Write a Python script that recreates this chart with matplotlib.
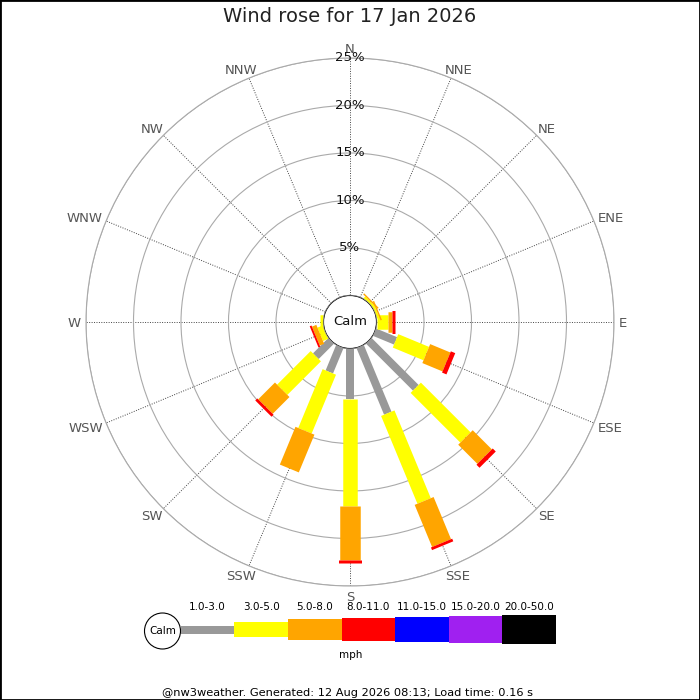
import numpy as np
import matplotlib
matplotlib.use("Agg")
import matplotlib.pyplot as plt
from matplotlib.patches import Circle, Rectangle

# Wind rose data: percent of time per direction and speed band
directions = ["N", "NNE", "NE", "ENE", "E", "ESE", "SE", "SSE",
              "S", "SSW", "SW", "WSW", "W", "WNW", "NW", "NNW"]
speed_bins = ["1.0-3.0", "3.0-5.0", "5.0-8.0", "8.0-11.0",
              "11.0-15.0", "15.0-20.0", "20.0-50.0"]
speed_unit = "mph"

pct_1_3 = [0, 0, 0, 0, 0, 2.4, 7.0, 7.6, 5.3, 2.9, 2.3, 0, 0, 0, 0, 0]
pct_3_5 = [0, 0, 0.25, 0.25, 1.25, 3.5, 7.4, 10.0, 11.3, 6.7, 5.0, 0.6, 0.35, 0, 0, 0]
pct_5_8 = [0, 0, 0.15, 0.15, 0.4, 2.3, 2.85, 4.8, 5.7, 4.3, 2.5, 0.5, 0, 0, 0, 0]
pct_8_11 = [0, 0, 0, 0, 0.3, 0.5, 0.45, 0.3, 0.3, 0, 0.3, 0.2, 0, 0, 0, 0]
pct_11_15 = [0] * 16
pct_15_20 = [0] * 16
pct_20_50 = [0] * 16

ring_ticks = [5, 10, 15, 20, 25]
title = "Wind rose for 17 Jan 2026"
footer = "@nw3weather. Generated: 12 Aug 2026 08:13; Load time: 0.16 s"

bin_colors = ["#999999", "#ffff00", "#ffa500", "#ff0000", "#0000ff", "#a020f0", "#000000"]
bin_widths_px = [8, 14.5, 20.5, 23, 25, 27, 29]

series = [pct_1_3, pct_3_5, pct_5_8, pct_8_11, pct_11_15, pct_15_20, pct_20_50]

dpi = 100
px = 72.0 / dpi   # points per pixel

fig = plt.figure(figsize=(7, 7), dpi=dpi)
fig.patch.set_facecolor("white")

# polar axes: centre (350, 322) px, outer ring radius 264 px
ax = fig.add_axes([86 / 700, 114 / 700, 528 / 700, 528 / 700], projection="polar")
ax.set_theta_zero_location("N")
ax.set_theta_direction(-1)
ax.set_ylim(0, 25)
ax.set_rorigin(-2.79)

theta = np.deg2rad(np.arange(16) * 22.5)
ax.set_xticks(theta)
ax.set_xticklabels([])
ax.set_yticks(ring_ticks)
ax.set_yticklabels([])
ax.xaxis.grid(True, color="#444444", linestyle=(0, (1, 1.5)), linewidth=0.7)
ax.yaxis.grid(True, color="#aaaaaa", linestyle="-", linewidth=0.8)
ax.spines["polar"].set_color("#aaaaaa")
ax.spines["polar"].set_linewidth(0.8)
for name in ("inner", "start", "end"):
    if name in ax.spines:
        ax.spines[name].set_visible(False)

# stacked bars as thick radial lines
base = np.zeros(16)
for vals, col, w in zip(series, bin_colors, bin_widths_px):
    vals = np.array(vals, dtype=float)
    for i in range(16):
        if vals[i] > 0:
            ax.plot([theta[i], theta[i]], [base[i], base[i] + vals[i]],
                    color=col, lw=w * px, solid_capstyle="butt", zorder=4)
    base += vals

# calm circle
tt = np.linspace(0, 2 * np.pi, 200)
ax.plot(tt, np.zeros_like(tt), color="#999999", lw=0.9, zorder=5)
ax.text(0.5, 0.5, "Calm", transform=ax.transAxes, ha="center", va="center",
        fontsize=9.5, color="#111111", zorder=6)

# ring labels along north spoke
for r in ring_ticks:
    ax.text(0, r, f"{r}%", ha="center", va="center", fontsize=9.5,
            color="#111111", zorder=6)

# direction labels just outside the outer ring, pushed out by half their size
renderer = fig.canvas.get_renderer()
cap_h = 9.6  # cap height in px at 9.5 pt
for th, lab in zip(theta, directions):
    s, c = np.sin(th), np.cos(th)
    t = ax.annotate(lab, xy=(th, 25), xytext=(0, 0), textcoords="offset points",
                    ha="center", va="baseline", fontsize=9.5,
                    color="#555555", annotation_clip=False)
    w = t.get_window_extent(renderer).width
    dx = (5 + w / 2) * s
    dy = (5 + cap_h / 2) * c - cap_h / 2
    t.xyann = (dx * px, dy * px)

fig.text(0.5, 1 - 17 / 700, title, ha="center", va="center", fontsize=14, color="#222222")

# legend and footer in pixel coordinates
axl = fig.add_axes([0, 0, 1, 1])
axl.set_xlim(0, 700)
axl.set_ylim(700, 0)
axl.axis("off")

axl.add_patch(Circle((162.5, 631), 18, facecolor="white", edgecolor="black", lw=0.8))
axl.text(162.5, 631, "Calm", ha="center", va="center", fontsize=7.5)
seg = 53.6
x0 = 180.7
for i, (lab, col, w) in enumerate(zip(speed_bins, bin_colors, bin_widths_px)):
    xs = x0 + i * seg
    axl.add_patch(Rectangle((xs, 629.5 - w / 2), seg, w, facecolor=col, edgecolor="none"))
    axl.text(xs + seg / 2, 607.5, lab, ha="center", va="center", fontsize=7.5)
axl.text(350.5, 654.5, speed_unit, ha="center", va="center", fontsize=7.5)
axl.text(348, 693, footer, ha="center", va="center", fontsize=8.2)

# frame
fig.add_artist(Rectangle((0, 0), 1, 1, transform=fig.transFigure, fill=False,
                         edgecolor="black", lw=2))

fig.savefig("out.png", dpi=dpi)
